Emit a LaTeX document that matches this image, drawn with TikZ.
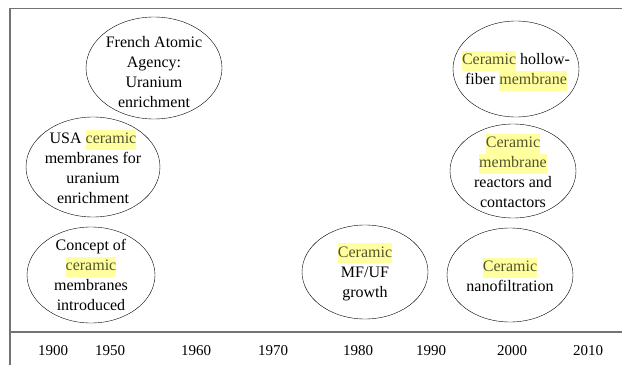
\documentclass[tikz,border=0pt]{standalone}
\usepackage{fontspec}
\setmainfont{Liberation Serif}
\usepackage{xcolor}

\definecolor{hlyellow}{RGB}{255,255,160}
\definecolor{hltext}{RGB}{85,85,45}
\newcommand{\hlword}[1]{{\setlength{\fboxsep}{0pt}\colorbox{hlyellow}{\strut\textcolor{hltext}{#1}}}}

\tikzset{
  event/.style={align=center, inner sep=0pt, font=\fontsize{16}{20}\selectfont},
  year/.style={font=\fontsize{15}{18}\selectfont},
  frameline/.style={draw=black!55, line width=1.3pt}
}

\begin{document}
\begin{tikzpicture}[x=1pt,y=1pt]
  \useasboundingbox (0,0) rectangle (622,365);

  % Frame and time axis
  \draw[frameline] (622,356.5) -- (10,356.5) -- (10,0);
  \draw[frameline] (10,33) -- (622,33);

  % Years
  \node[year] (y1900) at (53,14) {1900};
  \node[year] (y1950) at (110,14) {1950};
  \node[year] (y1960) at (196,14) {1960};
  \node[year] (y1970) at (273,14) {1970};
  \node[year] (y1980) at (358,14) {1980};
  \node[year] (y1990) at (431,14) {1990};
  \node[year] (y2000) at (512,14) {2000};
  \node[year] (y2010) at (588,14) {2010};

  % Events
  \node[event] (french) at (154,293) {French Atomic\\Agency:\\Uranium\\enrichment};
  \node[event] (usa) at (93,198) {USA \hlword{ceramic}\\membranes for\\uranium\\enrichment};
  \node[event] (concept) at (91,90) {Concept of\\\hlword{ceramic}\\membranes\\introduced};
  \node[event] (mfuf) at (365,93) {\hlword{Ceramic}\\MF/UF\\growth};
  \node[event] (hollow) at (516,294) {\hlword{Ceramic} hollow-\\fiber \hlword{membrane}};
  \node[event] (reactor) at (513,194) {\hlword{Ceramic}\\\hlword{membrane}\\reactors and\\contactors};
  \node[event] (nano) at (510,90) {\hlword{Ceramic}\\nanofiltration};

  % Outlines
  \draw (154,297) ellipse [x radius=68, y radius=51];
  \draw (usa) ellipse [x radius=67, y radius=50];
  \draw (concept) ellipse [x radius=64, y radius=48];
  \draw (365,93) ellipse [x radius=63, y radius=47];
  \draw (516,296) ellipse [x radius=63, y radius=48];
  \draw (reactor) ellipse [x radius=63, y radius=47];
  \draw (510,90) ellipse [x radius=63, y radius=47];
\end{tikzpicture}
\end{document}
